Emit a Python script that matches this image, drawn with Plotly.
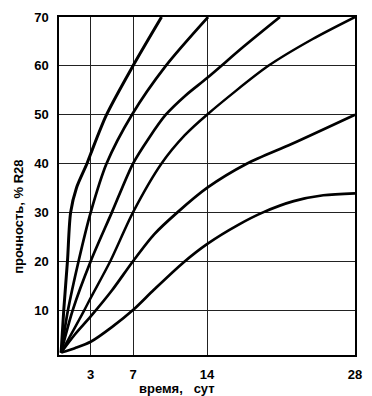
import plotly.graph_objects as go

# --- data ---
x_ticks = [3, 7, 14, 28]
y_ticks = [10, 20, 30, 40, 50, 60, 70]

c1_x = [0.2, 0.45, 0.8, 1.1, 1.65, 2.65, 3.0, 4.5, 7.0, 9.7]
c1_y = [1.3, 10, 20, 30, 35, 40, 42, 50, 60, 70]

c2_x = [0.2, 0.85, 1.85, 3.0, 4.5, 6.9, 10.1, 14.1]
c2_y = [1.3, 10, 20, 30, 40, 50, 60, 70]

c3_x = [0.2, 1.3, 3.0, 5.0, 7.0, 8.5, 10.1, 12.0, 14.0, 17.5, 20.9]
c3_y = [1.3, 10, 20, 30, 40, 45.2, 50, 54, 57.5, 64, 70]

c4_x = [0.2, 2.4, 3.0, 4.85, 7.0, 9.7, 11.9, 14.0, 19.8, 24.0, 28.0]
c4_y = [1.3, 10, 12.5, 20, 30, 40, 45.8, 50, 60, 65.5, 70]

c5_x = [0.2, 1.5, 3.0, 5.0, 7.0, 9.0, 11.2, 14.0, 17.8, 22.0, 28.0]
c5_y = [1.3, 5.0, 8.7, 14, 20, 25.5, 30, 35, 40, 44, 50]

c6_x = [0.2, 1.5, 3.0, 5.0, 7.0, 9.0, 11.8, 14.0, 17.0, 19.3, 22.2, 25.0, 28.0]
c6_y = [1.3, 2.2, 3.5, 6.5, 10, 14.2, 19.8, 23.5, 27.5, 30, 32.3, 33.5, 33.9]

curves = [(c1_x, c1_y, 3.0), (c2_x, c2_y, 2.7), (c3_x, c3_y, 2.7),
          (c4_x, c4_y, 2.5), (c5_x, c5_y, 2.7), (c6_x, c6_y, 2.7)]

fig = go.Figure()
for xs, ys, w in curves:
    fig.add_trace(go.Scatter(x=xs, y=ys, mode="lines",
                             line=dict(color="black", width=w, shape="spline", smoothing=0.8),
                             showlegend=False, hoverinfo="skip"))

font = dict(family="Liberation Sans, Arial, sans-serif", size=13, color="black")

fig.update_layout(
    width=372, height=396,
    margin=dict(l=59, r=14, t=10, b=41),
    paper_bgcolor="white", plot_bgcolor="white",
    font=font,
    xaxis=dict(range=[0, 28], tickvals=x_ticks, ticktext=[f"<b>{t}</b>" for t in x_ticks],
               showgrid=True, gridcolor="#222", gridwidth=1,
               showline=True, mirror=True, linecolor="black", linewidth=1.5,
               zeroline=False, ticks="", ticklabelstandoff=7),
    yaxis=dict(range=[0.8, 70], tickvals=y_ticks, ticktext=[f"<b>{t}</b>" for t in y_ticks],
               showgrid=True, gridcolor="#222", gridwidth=1,
               showline=True, mirror=True, linecolor="black", linewidth=1.5,
               zeroline=False, ticks="", ticklabelstandoff=6),
    annotations=[
        dict(text="<b>прочность, % R28</b>", xref="paper", yref="paper",
             x=-0.137, y=0.41, textangle=-90, showarrow=False,
             xanchor="center", yanchor="middle", font=font),
        dict(text="<b>время,\u00a0\u00a0\u00a0сут</b>", xref="paper", yref="paper",
             x=0.4, y=-0.1, showarrow=False,
             xanchor="center", yanchor="middle", font=font),
    ],
)

fig.write_html("out.html", config={"displayModeBar": False},
               post_script="document.body.style.margin='0';document.body.style.padding='0';")
